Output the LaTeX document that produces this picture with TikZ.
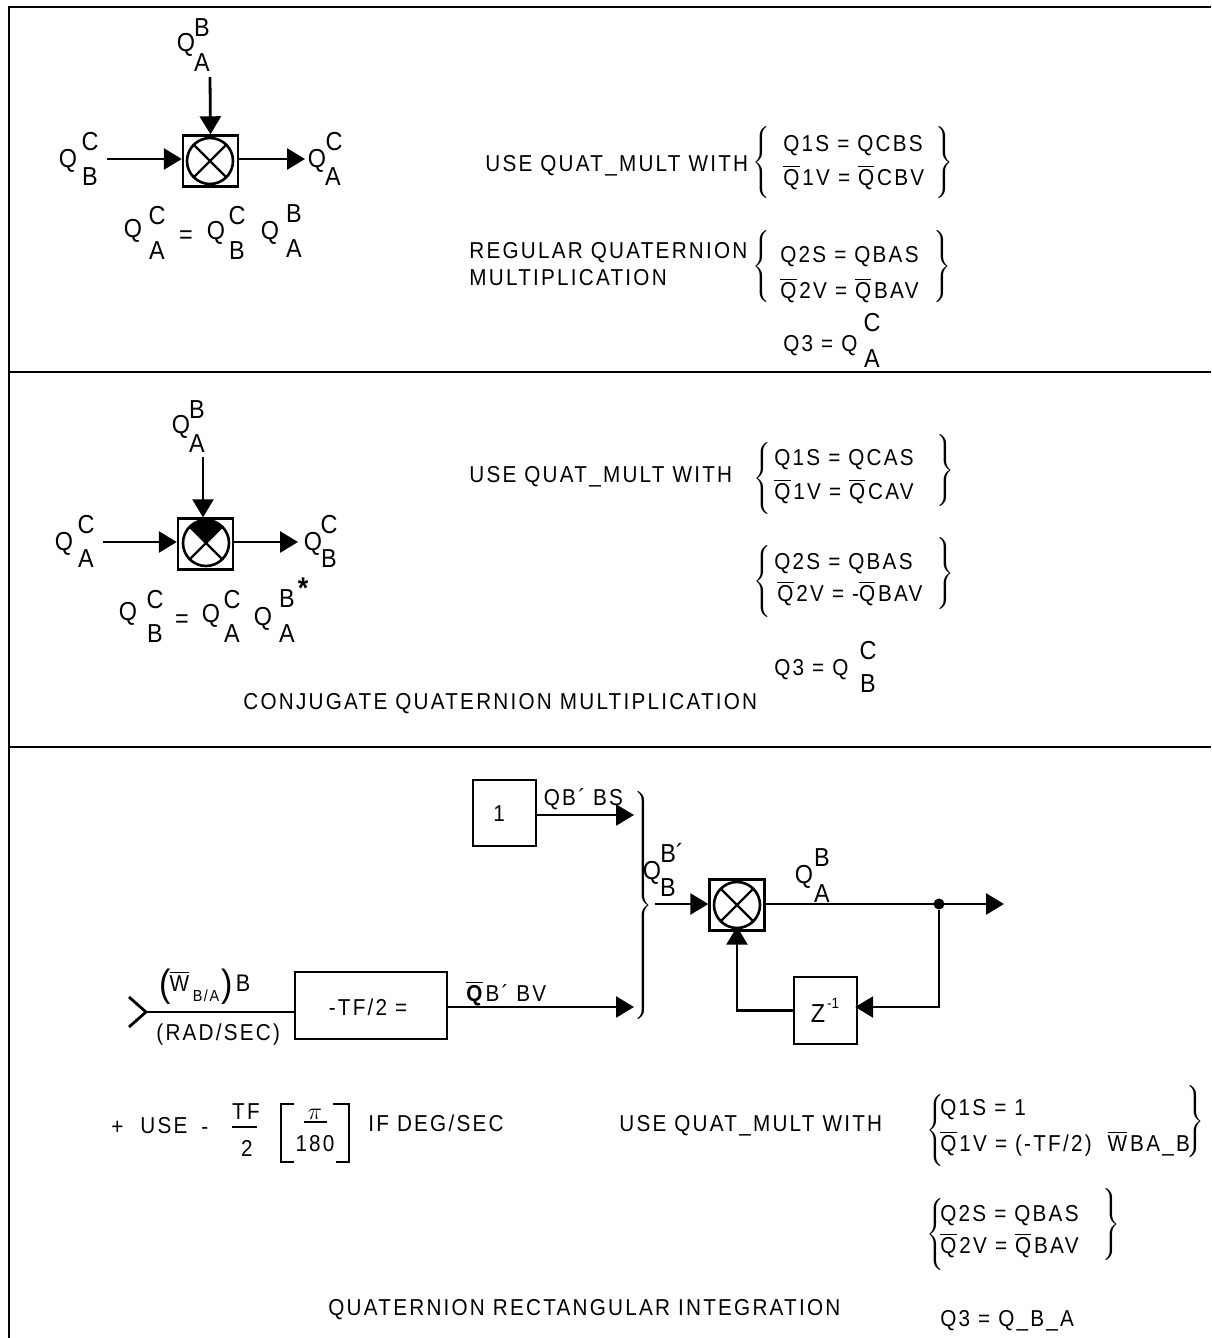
\documentclass[tikz,border=0pt]{standalone}
\usepackage{fontspec}
\usepackage{xcolor}
\usetikzlibrary{arrows.meta}
\setmainfont[FakeStretch=0.9]{Liberation Sans}
\newfontfamily\qfont[FakeStretch=0.9,LetterSpace=9.7]{Liberation Sans}
\definecolor{qink}{RGB}{0,0,0}
\tikzset{
  frameln/.style={draw=qink, line width=1.4pt},
  mbox/.style={
    draw=qink, line width=1.2pt, minimum width=27.5pt, minimum height=25.5pt, inner sep=0pt
  },
  fbox/.style={draw=qink, line width=1.2pt, inner sep=0pt},
  xcirc/.style={
    circle, draw=qink, line width=1.3pt, minimum size=23pt, inner sep=0pt,
    path picture={
      \draw[qink, line width=1.1pt] (path picture bounding box.north west) -- (path picture bounding box.south east);
      \draw[qink, line width=1.1pt] (path picture bounding box.north east) -- (path picture bounding box.south west);
    }
  },
  xcircf/.style={
    circle, draw=qink, line width=1.3pt, minimum size=23pt, inner sep=0pt,
    path picture={
      \fill[qink] (path picture bounding box.center) -- (path picture bounding box.north west)
        -- (path picture bounding box.north east) -- cycle;
      \draw[qink, line width=1.1pt] (path picture bounding box.north west) -- (path picture bounding box.south east);
      \draw[qink, line width=1.1pt] (path picture bounding box.north east) -- (path picture bounding box.south west);
    }
  },
  arr/.style={-{Triangle[length=9pt,width=10.5pt]}, draw=qink, line width=1.4pt},
  wire/.style={draw=qink, line width=1.4pt},
  txt/.style={
    anchor=west, inner sep=0pt, text height=8.2pt, text depth=0pt,
    font=\fontsize{11.5}{13}\qfont
  },
  ctxt/.style={txt, anchor=center},
  qsym/.style={
    anchor=center, inner sep=0pt, text height=9.3pt, text depth=0pt,
    font=\fontsize{13}{15}\selectfont
  },
  brc/.style={anchor=center, inner sep=0pt}
}
\newcommand{\qbar}[1]{\ensuremath{\overline{\mbox{#1}}}\kern1.5pt}
\newcommand{\quat}[6]{
  \node[qsym] (#1q) at (#2) {Q};
  \node[qsym] (#1u) at (#3) {#5};
  \node[qsym] (#1d) at (#4) {#6};
}
\newcommand{\lbrc}[1]{$\nulldelimiterspace=0pt\left\{\vcenter{\hbox{\rule{0pt}{#1}}}\right.$}
\newcommand{\rbrc}[1]{$\nulldelimiterspace=0pt\left.\vcenter{\hbox{\rule{0pt}{#1}}}\right\}$}
\begin{document}
\begin{tikzpicture}[x=0.5pt,y=-0.5pt]
  \useasboundingbox (0,0) rectangle (1211,1338);
  % frame
  \draw[frameln] (1211,7) -- (9,7) -- (9,1338);
  \draw[frameln] (9,372) -- (1211,372);
  \draw[frameln] (9,747) -- (1211,747);

  % regular product
  \node[mbox] (mula) at (210.5,161) {};
  \node[xcirc] (cira) at (210,161) {};
  \coordinate (topa) at (210,77);
  \coordinate (ina) at (107,159);
  \coordinate (outa) at (305,159);
  \draw[arr] (topa) -- (mula.north);
  \draw[arr] (ina) -- (mula.west |- ina);
  \draw[arr] (mula.east |- outa) -- (outa);
  \quat{qa}{186,42}{202,27}{202,62}{B}{A}
  \quat{qb}{68,158}{90,141}{90,176}{C}{B}
  \quat{qc}{317,158}{334,141}{333,176}{C}{A}
  \quat{qd}{133,228}{157,215}{157,250}{C}{A}
  \node[qsym] (eqa) at (186,234) {=};
  \quat{qe}{216,230}{237,215}{237,250}{C}{B}
  \quat{qf}{270,230}{294,213}{294,248}{B}{A}
  \node[txt] (usea) at (485,163) {USE QUAT\_MULT WITH};
  \node[txt] (rega) at (469,250) {REGULAR QUATERNION};
  \node[txt] (regb) at (469,277) {MULTIPLICATION};
  \node[brc] (bra) at (761.5,162.5) {\lbrc{36pt}};
  \node[brc] (brb) at (944,162.5) {\rbrc{36pt}};
  \node[txt] (qas) at (783,143) {Q1S = QCBS};
  \node[txt] (qav) at (783,177) {\qbar{Q}1V = \qbar{Q}CBV};
  \node[brc] (brc) at (761.5,266) {\lbrc{36pt}};
  \node[brc] (brd) at (942.5,266) {\rbrc{36pt}};
  \node[txt] (qbs) at (780,254) {Q2S = QBAS};
  \node[txt] (qbv) at (780,290) {\qbar{Q}2V = \qbar{Q}BAV};
  \node[txt] (qct) at (783,343) {Q3 = Q};
  \node[qsym] (qcu) at (872,322) {C};
  \node[qsym] (qcd) at (872,358) {A};

  % conjugate product
  \node[mbox] (mulb) at (205.5,544) {};
  \node[xcircf] (cirb) at (206,543) {};
  \coordinate (topb) at (203,457);
  \coordinate (inb) at (103,542);
  \coordinate (outb) at (298,542);
  \draw[arr] (topb) -- (mulb.north -| topb);
  \draw[arr] (inb) -- (mulb.west |- inb);
  \draw[arr] (mulb.east |- outb) -- (outb);
  \quat{qg}{181,424}{197,409}{197,443}{B}{A}
  \quat{qh}{64,541}{86,524}{86,558}{C}{A}
  \quat{qi}{313,541}{329,524}{329,558}{C}{B}
  \quat{qj}{128,611}{155,599}{155,633}{C}{B}
  \node[qsym] (eqb) at (182,618) {=};
  \quat{qk}{211,613}{232,599}{232,633}{C}{A}
  \quat{ql}{263,616}{287,598}{287,633}{B}{A}
  \node[qsym, font=\fontsize{15}{15}\bfseries] (star) at (303,589) {*};
  \node[txt] (useb) at (469,474) {USE QUAT\_MULT WITH};
  \node[brc] (bre) at (762,478.5) {\lbrc{36pt}};
  \node[brc] (brf) at (945,470) {\rbrc{36pt}};
  \node[txt] (qds) at (774,457) {Q1S = QCAS};
  \node[txt] (qdv) at (774,491) {\qbar{Q}1V = \qbar{Q}CAV};
  \node[brc] (brg) at (762,581.5) {\lbrc{36pt}};
  \node[brc] (brh) at (945,573.5) {\rbrc{36pt}};
  \node[txt] (qes) at (774,561) {Q2S = QBAS};
  \node[txt] (qev) at (777,593) {\qbar{Q}2V = -\qbar{Q}BAV};
  \node[txt] (qft) at (774,667) {Q3 = Q};
  \node[qsym] (qfu) at (868,650) {C};
  \node[qsym] (qfd) at (868,683) {B};
  \node[txt] (cjt) at (243,701) {CONJUGATE QUATERNION MULTIPLICATION};

  % integration loop
  \node[fbox, minimum width=31.5pt, minimum height=33pt] (one) at (504.5,813) {};
  \node[ctxt] (onet) at (499,813) {1};
  \node[fbox, minimum width=76pt, minimum height=33.5pt] (gain) at (371,1005.5) {};
  \node[ctxt] (gaint) at (368,1007) {-TF/2 =};
  \node[mbox] (mulc) at (737,905) {};
  \node[xcirc] (circ) at (737,905) {};
  \node[fbox, minimum width=31.5pt, minimum height=33.5pt] (zdel) at (825.5,1010.5) {};
  \node[qsym] (zt) at (818,1013) {Z};
  \node[qsym, font=\fontsize{7.5}{9}\selectfont, text height=5.4pt] (ze) at (833,1003) {-1};
  \node[circle, fill=qink, minimum size=5.5pt, inner sep=0pt] (tap) at (939,904) {};
  \coordinate (endc) at (1004,904);
  \coordinate (inc) at (655,904);
  \coordinate (braceb) at (634,1007);
  \coordinate (bracet) at (634,815);
  \coordinate (tipw) at (146,1012);
  \coordinate (chevt) at (129,997);
  \coordinate (chevb) at (129,1027);
  \draw[arr] (one.east |- bracet) -- (bracet);
  \draw[arr] (gain.east |- braceb) -- (braceb);
  \draw[wire] (chevt) -- (tipw) -- (chevb);
  \draw[wire] (tipw) -- (gain.west |- tipw);
  \draw[arr] (inc) -- (mulc.west |- inc);
  \draw[arr] (mulc.east |- tap) -- (endc);
  \draw[arr, shorten >=-1.5pt] (tap) |- (zdel.east |- braceb);
  \draw[arr, shorten >=-2.5pt] (zdel.west) -| (mulc.south);
  \node[brc] (bri) at (643,905) {\rbrc{117pt}};
  \node[txt] (qbs3) at (543.5,797) {QB´ BS};
  \node[txt] (qbv3) at (466,993) {\qbar{\bfseries Q}B´ BV};
  \node[qsym, font=\fontsize{19}{19}\selectfont, text height=13pt] (parl) at (165,983) {(};
  \node[qsym, font=\fontsize{19}{19}\selectfont, text height=13pt] (parr) at (227,983) {)};
  \node[qsym, font=\fontsize{11.5}{13}\selectfont, text height=8.2pt] (wbar) at (181,983) {\qbar{W}};
  \node[qsym, font=\fontsize{8}{9}\qfont, text height=5.8pt] (wsub) at (206,996) {B/A};
  \node[qsym, font=\fontsize{12}{13}\selectfont, text height=8.6pt] (wfr) at (243,983) {B};
  \node[txt] (rad) at (156,1032) {(RAD/SEC)};
  \quat{qm}{652,870}{672,853}{668,887}{B´}{B}
  \quat{qn}{804,874}{822,857}{822,893}{B}{A}

  % note
  \node[txt] (plus) at (111,1126) {+};
  \node[txt] (use3) at (140,1125) {USE};
  \node[txt] (mns) at (201,1126) {-};
  \node[ctxt] (tfn) at (246,1111) {TF};
  \node[ctxt] (tfd) at (247,1148) {2};
  \draw[wire, line width=1.1pt] (232,1127) -- (257,1127);
  \node[ctxt] (pin) at (315,1111) {$\pi$};
  \node[ctxt] (pid) at (315,1143) {180};
  \draw[wire, line width=1.1pt] (304,1122) -- (327,1122);
  \draw[wire] (294,1104) -- (281,1104) -- (281,1162) -- (294,1162);
  \draw[wire] (333,1104) -- (349,1104) -- (349,1162) -- (336,1162);
  \node[txt] (ifdeg) at (368,1123) {IF DEG/SEC};
  \node[txt] (usec) at (619,1123) {USE QUAT\_MULT WITH};
  \node[brc] (brj) at (935,1130) {\lbrc{36pt}};
  \node[brc] (brk) at (1195,1121) {\rbrc{36pt}};
  \node[txt] (qgs) at (940,1107) {Q1S = 1};
  \node[txt] (qgv) at (940,1143) {\qbar{Q}1V = (-TF/2)\ \ \qbar{W}BA\_B};
  \node[brc] (brl) at (935,1234) {\lbrc{36pt}};
  \node[brc] (brm) at (1111,1224) {\rbrc{36pt}};
  \node[txt] (qhs) at (940,1213) {Q2S = QBAS};
  \node[txt] (qhv) at (940,1245) {\qbar{Q}2V = \qbar{Q}BAV};
  \node[txt] (qit) at (940,1318) {Q3 = Q\_B\_A};
  \node[txt] (qrt) at (328,1307) {QUATERNION RECTANGULAR INTEGRATION};
\end{tikzpicture}
\end{document}
